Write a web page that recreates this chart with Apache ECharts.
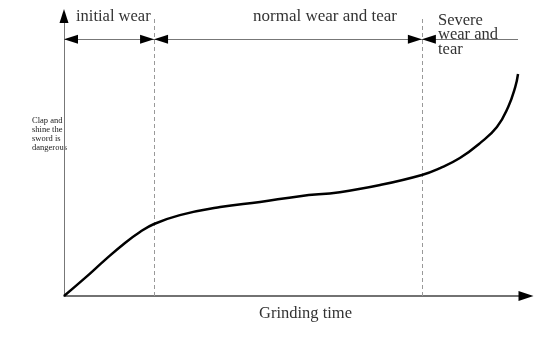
<!DOCTYPE html>
<html>
<head>
<meta charset="utf-8">
<script src="https://cdn.jsdelivr.net/npm/echarts@6/dist/echarts.min.js"></script>
<style>
  html, body { margin: 0; padding: 0; background: #fff; }
  #chart { width: 549px; height: 339px; }
</style>
</head>
<body>
<div id="chart"></div>
<script>
// Wear curve: grinding time (x) vs. wear amount (y), arbitrary units
const grindingTime = [0, 4.5, 8.7, 13.0, 16.2, 19.2, 24.7, 33.3, 41.8, 50.3, 58.8, 67.4, 76.3, 80.2, 84.4, 88.7, 92.3, 94.7, 96.2, 96.8];
const wearAmount   = [0, 6.3, 12.5, 18.5, 22.3, 25.1, 28.2, 31.0, 32.8, 34.8, 36.2, 38.7, 42.2, 44.6, 48.1, 53.3, 58.9, 65.9, 72.8, 77.4];

// Axis extents
const timeMax = 98.5;
const wearMax = 97.6;

// Stage boundaries on the time axis and the level of the stage arrows
const stageBounds = [0, 19.2, 76.3, 96.8];
const stageArrowLevel = 89.5;
const boundaryTop = 97;

const stageNames = ['initial wear', 'normal wear and tear', 'Severe\nwear and\ntear'];
const xAxisTitle = 'Grinding time';
const yAxisTitle = 'Clap and\nshine the\nsword is\ndangerous';

const serif = '"Liberation Serif", "Times New Roman", serif';

const curve = grindingTime.map((t, i) => [t, wearAmount[i]]);

// Horizontal stage spans
const arrowSegments = [
  [{ coord: [stageBounds[0], stageArrowLevel] }, { coord: [stageBounds[1], stageArrowLevel] }],
  [{ coord: [stageBounds[1], stageArrowLevel] }, { coord: [stageBounds[2], stageArrowLevel] }],
  [{ coord: [stageBounds[2], stageArrowLevel] }, { coord: [stageBounds[3], stageArrowLevel] }]
];

// Arrowheads: stage span ends plus the two axis ends
const arrowHeads = [
  { coord: [stageBounds[0], stageArrowLevel], symbolRotate: 90, symbolOffset: [7, 0] },
  { coord: [stageBounds[1], stageArrowLevel], symbolRotate: -90, symbolOffset: [-7, 0] },
  { coord: [stageBounds[1], stageArrowLevel], symbolRotate: 90, symbolOffset: [7, 0] },
  { coord: [stageBounds[2], stageArrowLevel], symbolRotate: -90, symbolOffset: [-7, 0] },
  { coord: [stageBounds[2], stageArrowLevel], symbolRotate: 90, symbolOffset: [7, 0] },
  { coord: [timeMax, 0], symbolRotate: -90, symbolSize: [10, 15], symbolOffset: [0, 0] },
  { coord: [0, wearMax], symbolRotate: 0, symbolSize: [9, 14], symbolOffset: [0, 0] }
];

const boundaryLines = [stageBounds[1], stageBounds[2]].map(b => [
  { coord: [b, 0] }, { coord: [b, boundaryTop] }
]);

const chart = echarts.init(document.getElementById('chart'), null, { renderer: 'canvas' });

chart.setOption({
  animation: false,
  backgroundColor: '#ffffff',
  grid: { left: 64, right: 23, top: 16, bottom: 43 },
  xAxis: {
    type: 'value', min: 0, max: timeMax,
    axisLine: { show: true, onZero: false, lineStyle: { color: '#444', width: 1.5 } },
    axisTick: { show: false }, axisLabel: { show: false }, splitLine: { show: false }
  },
  yAxis: {
    type: 'value', min: 0, max: wearMax,
    axisLine: { show: true, onZero: false, lineStyle: { color: '#777', width: 1 } },
    axisTick: { show: false }, axisLabel: { show: false }, splitLine: { show: false }
  },
  series: [
    {
      type: 'line',
      data: curve,
      smooth: 0.45,
      showSymbol: false,
      lineStyle: { color: '#000', width: 2.5 },
      z: 5
    },
    {
      type: 'line',
      data: [],
      markLine: {
        silent: true,
        symbol: 'none',
        label: { show: false },
        lineStyle: { color: '#999', width: 1, type: [4, 3] },
        data: boundaryLines
      }
    },
    {
      type: 'line',
      data: [],
      clip: false,
      markLine: {
        silent: true,
        symbol: 'none',
        label: { show: false },
        lineStyle: { color: '#777', width: 1, type: 'solid' },
        data: arrowSegments
      },
      markPoint: {
        silent: true,
        symbol: 'triangle',
        symbolSize: [9, 14],
        label: { show: false },
        itemStyle: { color: '#000' },
        data: arrowHeads
      }
    }
  ],
  graphic: [
    { type: 'text', left: 76, top: 8, style: { text: stageNames[0], font: '16.5px ' + serif, fill: '#333' } },
    { type: 'text', left: 253, top: 8, style: { text: stageNames[1], font: '17px ' + serif, fill: '#333' } },
    { type: 'text', left: 438, top: 12, style: { text: stageNames[2], font: '16.5px ' + serif, fill: '#333', lineHeight: 14.5 } },
    { type: 'text', left: 259, top: 305, style: { text: xAxisTitle, font: '16.5px ' + serif, fill: '#333' } },
    { type: 'text', left: 32, top: 116, style: { text: yAxisTitle, font: '8.5px ' + serif, fill: '#222', lineHeight: 9 } }
  ]
});
</script>
</body>
</html>
